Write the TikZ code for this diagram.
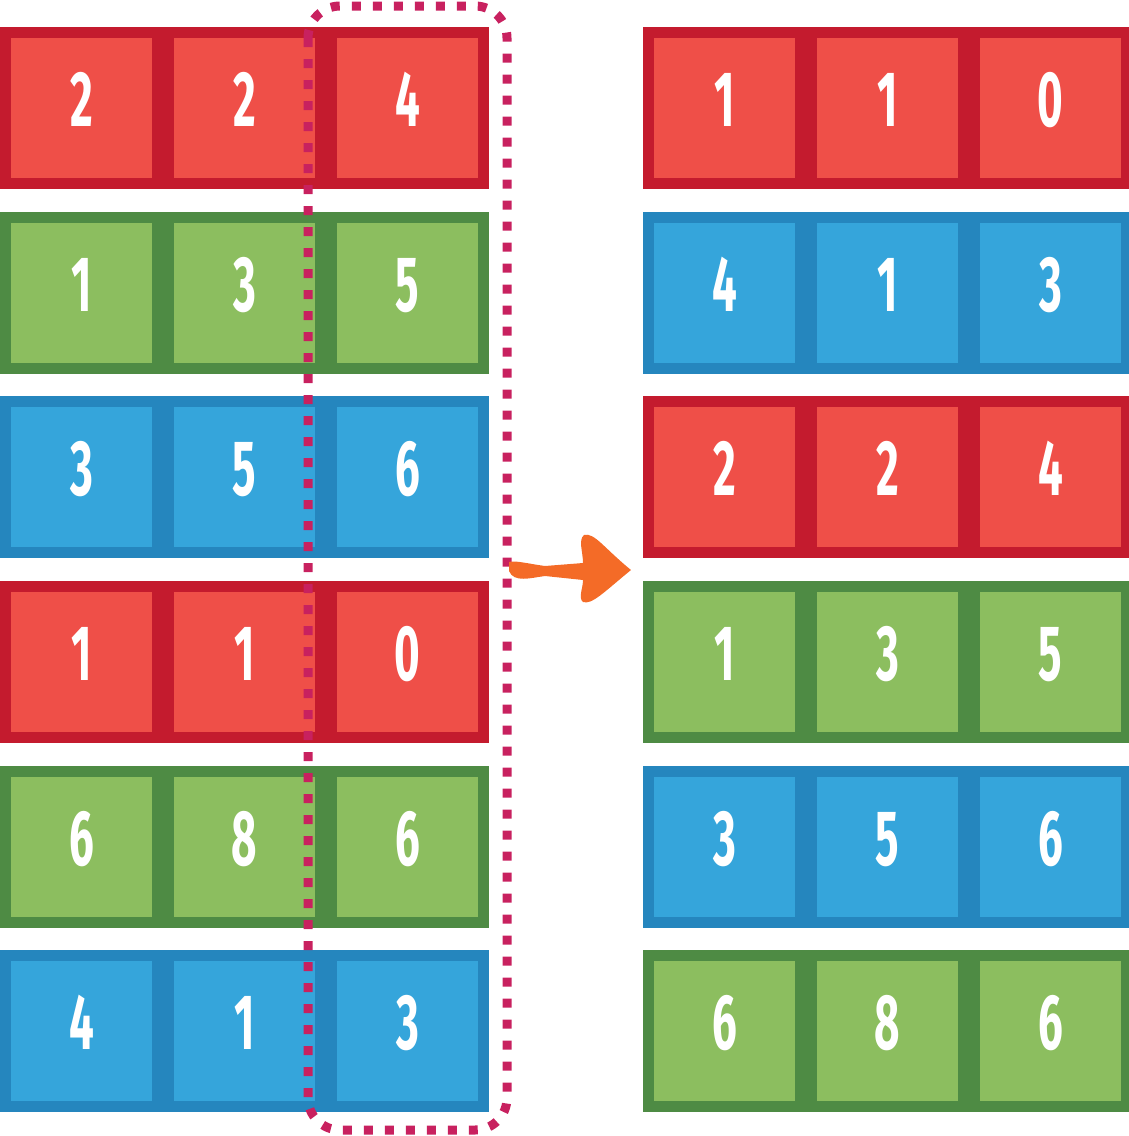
\documentclass[tikz,border=0pt]{standalone}
\usepackage{fontspec}
\newfontfamily\digitfont{Fira Sans}
\definecolor{Rfill}{HTML}{EF4F48}
\definecolor{Rline}{HTML}{C41B2E}
\definecolor{Gfill}{HTML}{8CBE5F}
\definecolor{Gline}{HTML}{4E8B44}
\definecolor{Bfill}{HTML}{35A5DB}
\definecolor{Bline}{HTML}{2586BE}
\definecolor{dotcol}{HTML}{C8215F}
\definecolor{arrowcol}{HTML}{F46B27}
\newcommand{\dg}[1]{\raisebox{17pt}{\scalebox{0.57}[1.02]{#1}}}
\begin{document}
\begin{tikzpicture}[x=1pt,y=-1pt,
  cell/.style={draw=#1line, fill=#1fill, line width=11pt,
    minimum width=152pt, minimum height=151pt, inner sep=0pt,
    text=white, font=\digitfont\bfseries\fontsize{77}{77}\selectfont},
  dotbox/.style={draw=dotcol, line width=9pt, dash pattern=on 9pt off 12pt, rounded corners=32pt},
  arrowshape/.style={fill=arrowcol}]
\useasboundingbox (0,0) rectangle (1129,1136);
\clip (0,0) rectangle (1129,1136);
% left grid
\foreach \r/\y/\s/\a/\b/\c in {1/108/R/2/2/4, 2/293/G/1/3/5, 3/477/B/3/5/6,
                                 4/662/R/1/1/0, 5/847/G/6/8/6, 6/1031/B/4/1/3}{
  \node[cell=\s] (L\r-1) at (81.5,\y) {\dg{\a}};
  \node[cell=\s] (L\r-2) at (244.5,\y) {\dg{\b}};
  \node[cell=\s] (L\r-3) at (407.5,\y) {\dg{\c}};
}
% right grid
\foreach \r/\y/\s/\a/\b/\c in {1/108/R/1/1/0, 2/293/B/4/1/3, 3/477/R/2/2/4,
                                 4/662/G/1/3/5, 5/847/B/3/5/6, 6/1031/G/6/8/6}{
  \node[cell=\s] (R\r-1) at (724.5,\y) {\dg{\a}};
  \node[cell=\s] (R\r-2) at (887.5,\y) {\dg{\b}};
  \node[cell=\s] (R\r-3) at (1050.5,\y) {\dg{\c}};
}
% dotted selection box
\draw[dotbox] (308,6) rectangle (507,1130);
% arrow
\coordinate (arrS) at (509,571);
\coordinate (arrT) at (631,570);
\fill[arrowshape] (arrS) ++(0,-9) .. controls (514,560) and (530,564) .. (545,566)
  -- (583,563) .. controls (583,552) and (578,540) .. (584,535)
  .. controls (594,532) and (604,548) .. (arrT)
  .. controls (604,592) and (592,605) .. (583,602)
  .. controls (578,598) and (583,588) .. (583,580)
  -- (545,576) .. controls (530,578) and (514,583) .. (arrS) -- cycle;
\end{tikzpicture}
\end{document}
